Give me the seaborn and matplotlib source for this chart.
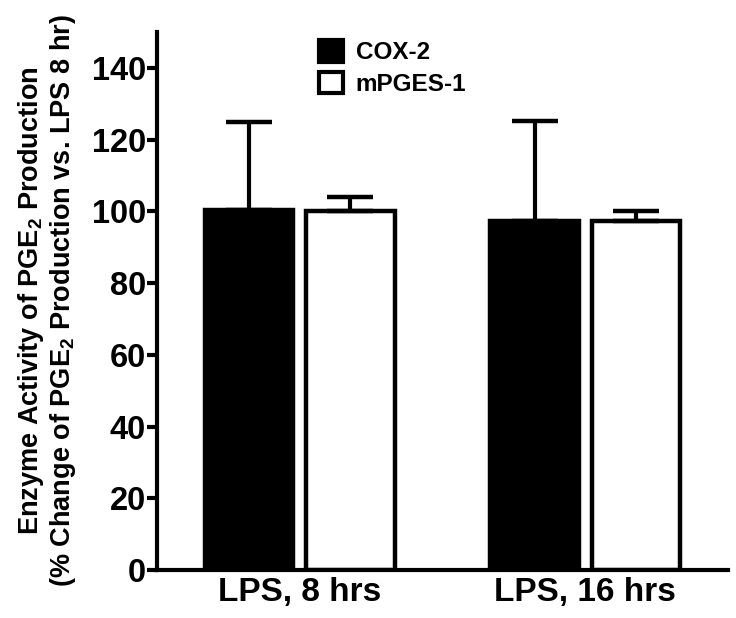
import matplotlib
matplotlib.use('Agg')
import matplotlib.pyplot as plt
from matplotlib.patches import Patch
import seaborn as sns
import pandas as pd

# values
groups = ['LPS, 8 hrs', 'LPS, 16 hrs']
enzymes = ['COX-2', 'mPGES-1']
cox2_mean = [100.3, 97.2]
cox2_err = [24.7, 28.0]
mpges_mean = [100.1, 97.3]
mpges_err = [3.9, 2.7]

sns.set_style('ticks')
plt.rcParams['font.family'] = ['Liberation Sans', 'DejaVu Sans']
plt.rcParams['font.weight'] = 'bold'
plt.rcParams['mathtext.default'] = 'regular'
for k in ['text.color', 'axes.labelcolor', 'xtick.color', 'ytick.color', 'axes.edgecolor']:
    plt.rcParams[k] = 'black'

df = pd.DataFrame({
    'group': groups * 2,
    'enzyme': [enzymes[0]] * 2 + [enzymes[1]] * 2,
    'value': cox2_mean + mpges_mean,
})

fig = plt.figure(figsize=(7.36, 6.18), dpi=100)
ax = fig.add_axes([157/736, 48/618, 571/736, 538/618])

sns.barplot(data=df, x='group', y='value', hue='enzyme', order=groups,
            hue_order=enzymes, palette=['black', 'white'], edgecolor='black',
            linewidth=3.2, width=0.71, gap=0.13, errorbar=None, legend=False, ax=ax)

errs = [cox2_err, mpges_err]
means = [cox2_mean, mpges_mean]
for cont, m, e in zip(ax.containers, means, errs):
    xs = [b.get_x() + b.get_width() / 2 for b in cont]
    ax.errorbar(xs, m, yerr=[[0] * len(e), e], fmt='none', ecolor='black',
                elinewidth=3, capsize=16.5, capthick=3.2, zorder=1)

ax.set_xlim(-0.5, 1.5)
ax.set_ylim(0, 150)
ax.set_yticks(range(0, 141, 20))
ax.set_xlabel('')
ax.set_ylabel('Enzyme Activity of PGE$_2$ Production\n'
              '(% Change of PGE$_2$ Production vs. LPS 8 hr)',
              fontsize=19.5, fontweight='bold', linespacing=1.1, labelpad=10)
ax.tick_params(axis='y', labelsize=23.5, width=3, length=7, pad=1)
ax.tick_params(axis='x', labelsize=24, length=0, pad=5)
for lab in ax.get_xticklabels() + ax.get_yticklabels():
    lab.set_fontweight('bold')
sns.despine(ax=ax)
for s in ['left', 'bottom']:
    ax.spines[s].set_linewidth(3)

handles = [Patch(facecolor='black', edgecolor='black', linewidth=3),
           Patch(facecolor='white', edgecolor='black', linewidth=3)]
ax.legend(handles, enzymes, loc='upper left', bbox_to_anchor=(0.284, 0.985),
          frameon=False, borderpad=0, borderaxespad=0, handlelength=1.0,
          handleheight=1.0, handletextpad=0.5, labelspacing=0.3,
          prop={'size': 17.5, 'weight': 'bold'})

fig.savefig('out.png', dpi=100)
